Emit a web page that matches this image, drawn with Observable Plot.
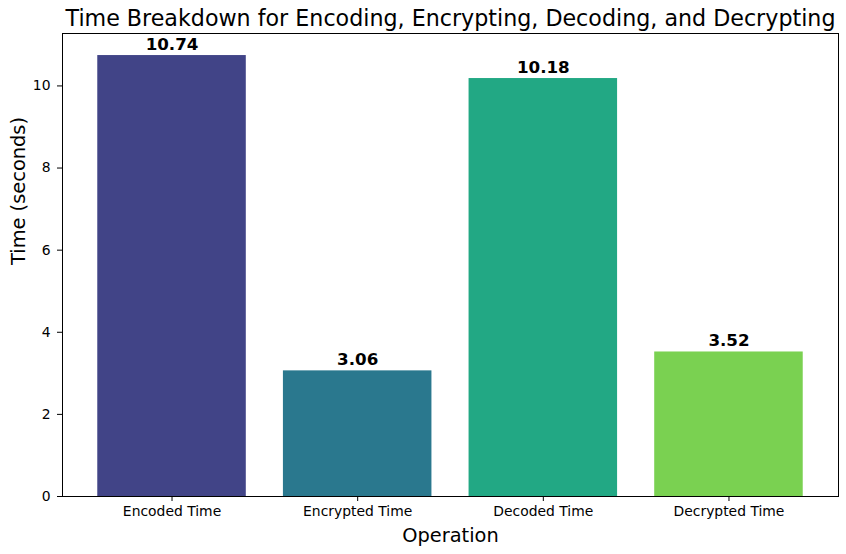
<!DOCTYPE html>
<html>
<head>
<meta charset="utf-8">
<script src="https://cdn.jsdelivr.net/npm/d3@7"></script>
<script src="https://cdn.jsdelivr.net/npm/@observablehq/plot@0.6"></script>
<style>
  body { margin: 0; background: #fff; }
  svg { font-family: "DejaVu Sans", sans-serif; }
</style>
</head>
<body>
<div id="chart"></div>
<script>
const operations = ["Encoded Time", "Encrypted Time", "Decoded Time", "Decrypted Time"];
const times = [10.74, 3.06, 10.18, 3.52];
const colors = ["#414487", "#2A788E", "#22A884", "#7AD151"];
const yTicks = [0, 2, 4, 6, 8, 10];
const titleText = "Time Breakdown for Encoding, Encrypting, Decoding, and Decrypting";

const data = operations.map((op, i) => ({op, t: times[i]}));

const chart = Plot.plot({
  width: 846,
  height: 554,
  marginLeft: 62,
  marginRight: 8,
  marginTop: 33,
  marginBottom: 58,
  style: {fontFamily: "DejaVu Sans, sans-serif", background: "#fff", color: "#000"},
  x: {domain: operations, paddingInner: 0.2, paddingOuter: 0.19, round: false, label: null, axis: null},
  y: {domain: [0, 10.74 * 1.05], label: null, axis: null},
  color: {domain: operations, range: colors},
  marks: [
    Plot.barY(data, {x: "op", y: "t", fill: "op"}),
    Plot.frame({stroke: "#000", strokeWidth: 1}),
    Plot.axisX({tickSize: 5, tickPadding: 5, fontSize: 13.9, label: null, stroke: "#000"}),
    Plot.axisY({ticks: yTicks, tickSize: 5, tickPadding: 7, fontSize: 13.9, label: null, stroke: "#000", tickFormat: d => String(d)}),
    Plot.text(data, {x: "op", y: "t", text: d => d.t.toFixed(2), lineAnchor: "bottom", dy: -6, fontSize: 16.7, fontWeight: "bold", fill: "#000"}),
    Plot.text([titleText], {frameAnchor: "top", dy: -7.5, lineAnchor: "bottom", text: d => d, fontSize: 22.2, fill: "#000"}),
    Plot.text(["Operation"], {frameAnchor: "bottom", dy: 32, lineAnchor: "top", text: d => d, fontSize: 19.4, fill: "#000"}),
    Plot.text(["Time (seconds)"], {frameAnchor: "left", dx: -38, rotate: -90, lineAnchor: "bottom", text: d => d, fontSize: 19.4, fill: "#000"})
  ]
});
document.getElementById("chart").appendChild(chart);
</script>
</body>
</html>
